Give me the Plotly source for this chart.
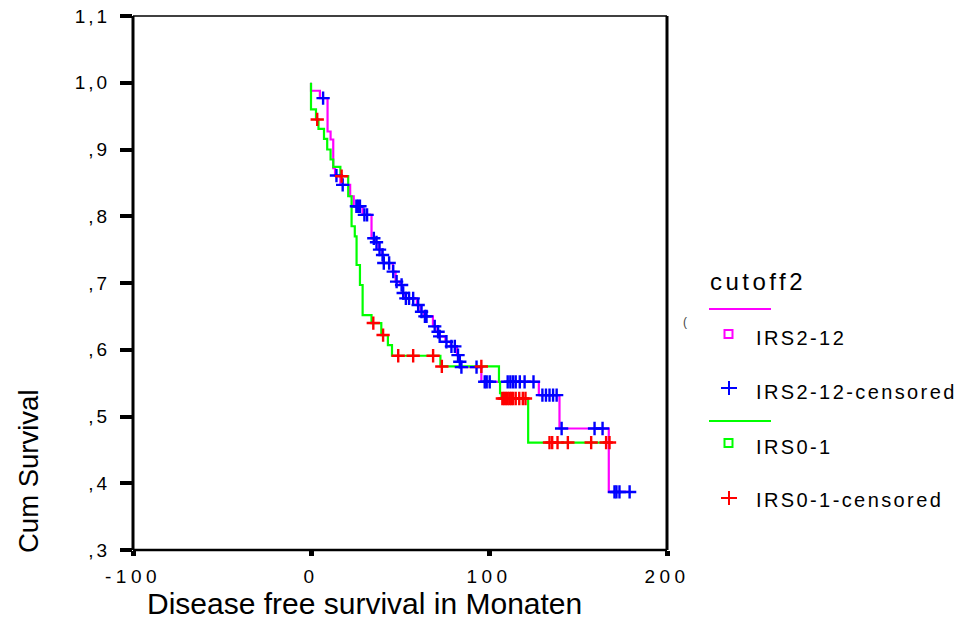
import numpy as np
import plotly.graph_objects as go

# Kaplan-Meier estimates, disease free survival (months) by IRS group
irs212_event_months = [0.0, 5.0, 9.3, 11.0, 12.5, 13.5, 16.5, 22.0, 24.0, 29.0,
                       34.0, 36.3, 38.0, 40.0, 40.6, 46.0, 47.5, 50.0, 51.5, 53.0,
                       59.5, 61.5, 63.5, 68.5, 71.0, 72.0, 75.5, 78.5, 82.0, 83.3,
                       84.0, 95.7, 128.0, 139.6, 167.3]
irs212_survival = [0.988, 0.977, 0.927, 0.915, 0.872, 0.861, 0.847, 0.830, 0.815, 0.802,
                   0.767, 0.761, 0.750, 0.742, 0.730, 0.717, 0.702, 0.697, 0.685, 0.677,
                   0.667, 0.657, 0.650, 0.635, 0.627, 0.620, 0.612, 0.605, 0.592, 0.582,
                   0.574, 0.552, 0.532, 0.482, 0.387]
irs212_censored_months = [6.8, 14.3, 17.8, 25.5, 26.5, 27.5, 30.0, 31.5, 35.3, 36.8,
                          38.5, 40.2, 40.9, 43.9, 46.2, 48.1, 50.9, 51.8, 53.3, 55.1,
                          57.4, 60.2, 62.1, 64.0, 64.9, 69.5, 71.4, 72.3, 76.1, 78.9,
                          80.8, 82.6, 83.6, 84.5, 93.0, 97.6, 98.7, 100.4, 110.5, 112.0,
                          113.5, 115.0, 117.3, 120.0, 125.0, 130.0, 132.0, 134.0, 136.0,
                          138.0, 140.8, 159.3, 163.8, 170.5, 171.6, 173.3, 179.0]

irs01_event_months = [0.0, 2.8, 4.2, 7.3, 9.1, 11.0, 12.5, 16.5, 20.9, 22.8,
                      24.6, 25.6, 27.5, 29.0, 34.0, 39.5, 43.2, 45.5, 72.7, 105.6,
                      106.2, 107.0, 122.0]
irs01_survival = [0.960, 0.945, 0.931, 0.916, 0.900, 0.885, 0.874, 0.860, 0.830, 0.785,
                  0.770, 0.727, 0.697, 0.652, 0.640, 0.622, 0.607, 0.591, 0.575, 0.552,
                  0.535, 0.527, 0.461]
irs01_censored_months = [3.5, 17.2, 35.0, 40.5, 49.0, 57.4, 68.6, 73.5, 95.7, 107.5,
                         108.5, 109.5, 110.5, 111.5, 112.5, 113.5, 115.0, 117.0, 119.0,
                         120.5, 134.0, 135.5, 138.5, 144.3, 157.4, 165.8, 167.7]

x_tick_values = [-100, 0, 100, 200]
x_tick_labels = ["-100", "0", "100", "200"]
y_tick_values = [0.3, 0.4, 0.5, 0.6, 0.7, 0.8, 0.9, 1.0, 1.1]
y_tick_labels = [",3", ",4", ",5", ",6", ",7", ",8", ",9", "1,0", "1,1"]

legend_title = "cutoff2"
legend_labels = ["IRS2-12", "IRS2-12-censored", "IRS0-1", "IRS0-1-censored"]

FONT = "Liberation Sans, Arial, sans-serif"
MAGENTA, BLUE, GREEN, RED = "#FF00FF", "#0000FF", "#00FF00", "#FF0000"

# page geometry of the plotting frame (pixels)
W, H = 961, 622
PL, PR, PT, PB = 133, 667, 16, 550


def px_x(px):
    return (px - PL) / (PR - PL)


def px_y(py):
    return (PB - py) / (PB - PT)


def spaced(text, gap):
    return f"<span style='letter-spacing:{gap}px'>{text}</span>"


def km_path(times, surv, end):
    xs = [0.0] + list(times) + [end]
    ys = [1.0] + list(surv) + [surv[-1]]
    return xs, ys


def km_at(times, surv, when):
    idx = np.searchsorted(np.asarray(times), np.asarray(when), side="right") - 1
    return [surv[i] if i >= 0 else 1.0 for i in idx]


fig = go.Figure()

groups = [
    (irs212_event_months, irs212_survival, irs212_censored_months, MAGENTA, BLUE),
    (irs01_event_months, irs01_survival, irs01_censored_months, GREEN, RED),
]
for times, surv, cens, line_col, cens_col in groups:
    xs, ys = km_path(times, surv, max(cens))
    fig.add_trace(go.Scatter(x=xs, y=ys, mode="lines", line_shape="hv",
                             line=dict(color=line_col, width=2.2),
                             hoverinfo="skip", showlegend=False, cliponaxis=False))
for times, surv, cens, line_col, cens_col in groups:
    fig.add_trace(go.Scatter(x=cens, y=km_at(times, surv, cens), mode="markers",
                             marker=dict(symbol="cross-thin", size=9.5,
                                         line=dict(color=cens_col, width=2.4)),
                             hoverinfo="skip", showlegend=False, cliponaxis=False))

shapes = [
    # frame
    dict(type="line", xref="paper", yref="paper", x0=0, x1=0, y0=0, y1=1,
         line=dict(color="black", width=3)),
    dict(type="line", xref="paper", yref="paper", x0=1, x1=1, y0=0, y1=1,
         line=dict(color="black", width=3)),
    dict(type="line", xref="paper", yref="paper", x0=0, x1=1, y0=1, y1=1,
         line=dict(color="black", width=1.5)),
    dict(type="line", xref="paper", yref="paper", x0=0, x1=1, y0=0, y1=0,
         line=dict(color="black", width=2.5)),
]

# legend: group separator lines, squares for events, crosses for censored cases
for py, col in [(309, MAGENTA), (421, GREEN)]:
    shapes.append(dict(type="line", xref="paper", yref="paper",
                       x0=px_x(709), x1=px_x(771), y0=px_y(py), y1=px_y(py),
                       line=dict(color=col, width=2)))
for cy, col in [(334, MAGENTA), (443, GREEN)]:
    shapes.append(dict(type="rect", xref="paper", yref="paper",
                       x0=px_x(724.5), x1=px_x(732.5), y0=px_y(cy + 4), y1=px_y(cy - 4),
                       line=dict(color=col, width=2), fillcolor="rgba(0,0,0,0)"))
for cy, col in [(388, BLUE), (498, RED)]:
    shapes.append(dict(type="line", xref="paper", yref="paper",
                       x0=px_x(721), x1=px_x(737), y0=px_y(cy), y1=px_y(cy),
                       line=dict(color=col, width=2)))
    shapes.append(dict(type="line", xref="paper", yref="paper",
                       x0=px_x(729), x1=px_x(729), y0=px_y(cy - 7), y1=px_y(cy + 7),
                       line=dict(color=col, width=2)))

annotations = [
    dict(text=spaced(legend_title, 3.5), x=px_x(708), y=px_y(281), xref="paper",
         yref="paper", xanchor="left", yanchor="middle", showarrow=False,
         font=dict(family=FONT, size=24, color="black")),
    dict(text="(", x=px_x(689), y=px_y(322), xref="paper", yref="paper",
         showarrow=False, font=dict(family=FONT, size=12, color="#444")),
    dict(text="Cum Survival", x=px_x(28), y=px_y(471), xref="paper", yref="paper",
         textangle=-90, showarrow=False, xanchor="center", yanchor="middle",
         font=dict(family=FONT, size=27.5, color="black")),
    dict(text="Disease free survival in Monaten", x=px_x(364), y=px_y(621),
         xref="paper", yref="paper", showarrow=False, xanchor="center",
         yanchor="bottom", borderpad=0,
         font=dict(family=FONT, size=30, color="black")),
]
for label, py in zip(legend_labels, [338, 392, 447, 500]):
    annotations.append(dict(text=spaced(label, 2.4), x=px_x(754), y=px_y(py),
                            xref="paper", yref="paper", xanchor="left",
                            yanchor="middle", showarrow=False,
                            font=dict(family=FONT, size=20, color="black")))

fig.update_layout(
    width=W, height=H,
    margin=dict(l=PL, r=W - PR, t=PT, b=H - PB, pad=0, autoexpand=False),
    paper_bgcolor="white", plot_bgcolor="white",
    shapes=shapes, annotations=annotations,
    xaxis=dict(range=[-100, 200], tickvals=x_tick_values,
               ticktext=[spaced(t, 4.5) for t in x_tick_labels],
               ticks="outside", ticklen=5, tickwidth=5, tickcolor="black",
               ticklabelstandoff=4, automargin=False,
               showgrid=False, zeroline=False, showline=False,
               tickfont=dict(family=FONT, size=19, color="black")),
    yaxis=dict(range=[0.3, 1.1], tickvals=y_tick_values,
               ticktext=[spaced(t, 3) for t in y_tick_labels],
               ticks="outside", ticklen=12, tickwidth=4, tickcolor="black",
               ticklabelstandoff=6, automargin=False,
               showgrid=False, zeroline=False, showline=False,
               tickfont=dict(family=FONT, size=19, color="black")),
)

fig.write_html("out.html")
